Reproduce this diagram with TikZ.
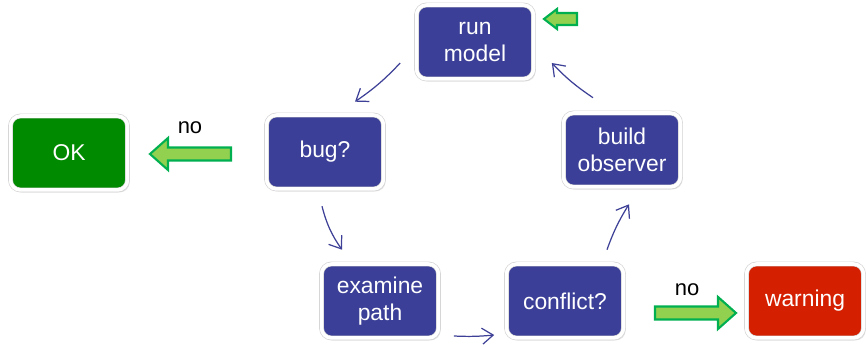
\documentclass[tikz,border=0pt]{standalone}
\usepackage{fontspec}
\setmainfont{Liberation Sans}
\usetikzlibrary{arrows.meta,shadows,calc}
\definecolor{boxblue}{HTML}{3B3F97}
\definecolor{okgreen}{HTML}{008A00}
\definecolor{warnred}{HTML}{D42000}
\definecolor{arrfill}{HTML}{92D050}
\definecolor{arrdraw}{HTML}{00B050}
\definecolor{flowblue}{HTML}{3D4096}
\tikzset{
  box/.style={draw=black!18, line width=0.35pt, double=white, double distance=2pt,
    rounded corners=0.2cm, fill=boxblue,
    minimum width=2.34cm, minimum height=1.48cm, align=center, text=white,
    font=\fontsize{13}{15}\selectfont,
    drop shadow={shadow xshift=1.2pt, shadow yshift=-1.4pt, opacity=0.22}},
  flow/.style={draw=flowblue, line width=0.7pt, -{Straight Barb[length=2.2mm,width=3.2mm]}},
  garrow/.style={fill=arrfill, draw=arrdraw, line width=1.2pt, line join=miter},
  lbl/.style={font=\fontsize{12.5}{14}\selectfont, text=black}
}
\begin{document}
\begin{tikzpicture}[x=0.02cm, y=-0.02cm]
\useasboundingbox (0,0) rectangle (866,347);
\node[box] (run) at (475,42) {run\\model};
\node[box, fill=okgreen] (ok) at (69,153) {OK};
\node[box] (bug) at (325,152) {bug?};
\node[box] (build) at (622,150) {build\\observer};
\node[box] (exam) at (380,301) {examine\\path};
\node[box] (conf) at (565,301) {conflict?};
\node[box, fill=warnred] (warn) at (805,301) {warning};

\draw[flow] ($(run.west)+(-16,21)$) to[bend left=6] ($(bug.north)+(30,-13)$);
\draw[flow] ($(bug.south)+(-3,17)$) to[bend right=10] ($(exam.north)+(-38,-14)$);
\draw[flow] ($(exam.east)+(15,35)$) to[bend right=4] ($(conf.west)+(-12,34)$);
\draw[flow] ($(conf.north)+(42,-14)$) to[bend left=6] ($(build.south)+(7,17)$);
\draw[flow] ($(build.north)+(-29,-15)$) to[bend left=6] ($(run.east)+(18,21)$);

% green block arrows
\coordinate (t1) at (544,19);
\filldraw[garrow] (t1) -- ++(13,-10) -- ++(0,4) -- ++(20,0) -- ++(0,12) -- ++(-20,0) -- ++(0,4) -- cycle;
\coordinate (t2) at (150,154);
\filldraw[garrow] (t2) -- ++(18,-16) -- ++(0,9.5) -- ++(63,0) -- ++(0,13) -- ++(-63,0) -- ++(0,9.5) -- cycle;
\coordinate (t3) at (736,313);
\filldraw[garrow] (t3) -- ++(-18,-16) -- ++(0,9.5) -- ++(-63,0) -- ++(0,13) -- ++(63,0) -- ++(0,9.5) -- cycle;

\node[lbl] (no1) at (190,128) {no};
\node[lbl] (no2) at (687,290) {no};
\end{tikzpicture}
\end{document}
